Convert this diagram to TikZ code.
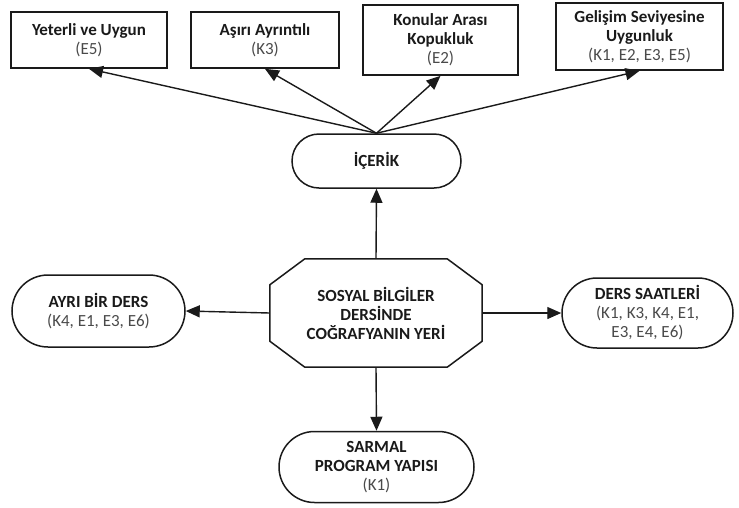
\documentclass[tikz,border=0pt]{standalone}
\usepackage{fontspec}
\setsansfont{Carlito}
\usetikzlibrary{arrows.meta,shapes.misc}
\usepackage{xcolor}
\definecolor{Ink}{HTML}{1a1a1a}
\definecolor{CodeGray}{HTML}{4a4a4a}
\newcommand{\Codes}[1]{{\mdseries\color{CodeGray}#1}}

\begin{document}
\begin{tikzpicture}[
        %Environment Cfg.
        x=1pt,y=-1pt,
        font=\sffamily\bfseries\fontsize{17}{19}\selectfont,
        >={Triangle[length=14pt,width=12pt]},%from arrows.meta
        %Environment Styles.
        topBox/.style={
            rectangle,
            draw=Ink,
            line width=1.7pt,
            inner sep=0pt,
            align=center,
            text=Ink
        },
        pillBox/.style={
            rounded rectangle,
            draw=Ink,
            line width=1.5pt,
            inner sep=0pt,
            align=center,
            fill=white,
            text=Ink
        },
        link/.style={->, line width=1.4pt, draw=Ink},
    ]
    \useasboundingbox (0,0) rectangle (739,507);

    %Top row of boxes.
    \node[topBox, minimum width=156pt, minimum height=56pt] (YET) at (89,40)
        {Yeterli ve Uygun\\\Codes{(E5)}};
    \node[topBox, minimum width=148pt, minimum height=56pt] (ASI) at (265,40)
        {Aşırı Ayrıntılı\\\Codes{(K3)}};
    \node[topBox, minimum width=155pt, minimum height=70pt] (KON) at (440.5,40)
        {Konular Arası\\Kopukluk\\\Codes{(E2)}};
    \node[topBox, minimum width=167pt, minimum height=67pt] (GEL) at (639.5,36.5)
        {Gelişim Seviyesine\\Uygunluk\\\Codes{(K1, E2, E3, E5)}};

    %Middle and sides.
    \node[pillBox, minimum width=169pt, minimum height=54pt] (ICE) at (376.5,161) {İÇERİK};
    \node[minimum width=212pt, minimum height=108pt, inner sep=0pt, align=center, text=Ink] (CORE) at (376,313)
        {SOSYAL BİLGİLER\\DERSİNDE\\COĞRAFYANIN YERİ};
    \draw[line width=1.5pt, Ink]
        ([xshift=35pt]CORE.north west) -- ([xshift=-35pt]CORE.north east)
        -- ([yshift=-26pt]CORE.north east) -- ([yshift=26pt]CORE.south east)
        -- ([xshift=-35pt]CORE.south east) -- ([xshift=35pt]CORE.south west)
        -- ([yshift=26pt]CORE.south west) -- ([yshift=-26pt]CORE.north west) -- cycle;
    \node[pillBox, minimum width=173pt, minimum height=72pt] (AYR) at (98.5,311)
        {AYRI BİR DERS\\\Codes{(K4, E1, E3, E6)}};
    \node[pillBox, minimum width=171pt, minimum height=70pt] (SAA) at (647.5,313)
        {DERS SAATLERİ\\\Codes{(K1, K3, K4, E1,}\\\Codes{E3, E4, E6)}};
    \node[pillBox, minimum width=195pt, minimum height=71pt] (SAR) at (376.5,467)
        {SARMAL\\PROGRAM YAPISI\\\Codes{(K1)}};

    %Connectors.
    \draw[link] (ICE.north) -- (YET.south);
    \draw[link] (ICE.north) -- (ASI.south);
    \draw[link] (ICE.north) -- (KON.south);
    \draw[link] (ICE.north) -- (GEL.south);
    \draw[link] (CORE.north) -- (ICE.south);
    \draw[link] (CORE.west) -- (AYR.east);
    \draw[link] (CORE.east) -- (SAA.west);
    \draw[link] (CORE.south) -- (SAR.north);
\end{tikzpicture}
\end{document}
